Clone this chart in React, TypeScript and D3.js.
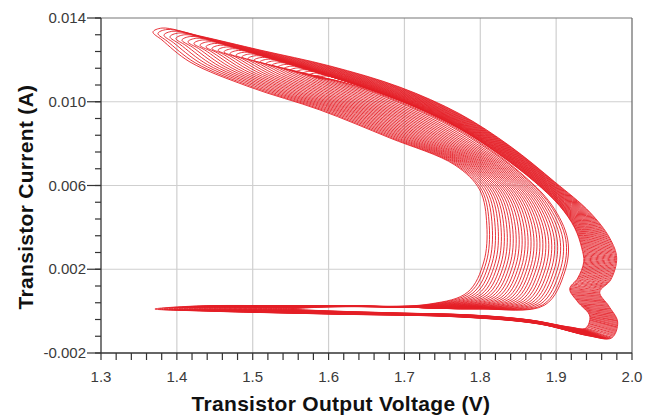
import React from "react";
import * as d3 from "d3";

// outermost and innermost orbit: [voltage V, current A]
const outerLoop: [number, number][] = [
  [1.3685, 0.01333], [1.3804, 0.01352], [1.4304, 0.01314], [1.5095, 0.01247],
  [1.6017, 0.01171], [1.6939, 0.0107], [1.773, 0.00942], [1.8389, 0.00789],
  [1.8982, 0.00617], [1.9443, 0.00473], [1.9706, 0.00349], [1.9798, 0.00254],
  [1.9719, 0.00149], [1.9574, 0.00091], [1.9693, 0.00025], [1.9811, -0.00052],
  [1.9732, -0.00128], [1.9443, -0.00119], [1.8784, -0.00062], [1.773, -0.00028],
  [1.6017, -0.00014], [1.4304, 0.00001], [1.3711, 0.0001], [1.4304, 0.00025],
  [1.6017, 0.00025], [1.7335, 0.00034], [1.7835, 0.00091], [1.8046, 0.00235],
  [1.8086, 0.00411], [1.7993, 0.00579], [1.7664, 0.00698], [1.6808, 0.00827],
  [1.5885, 0.00961], [1.4963, 0.0107], [1.4173, 0.0119], [1.3804, 0.01295],
];

const innerLoop: [number, number][] = [
  [1.5859, 0.01113], [1.5964, 0.01123], [1.6215, 0.01099], [1.6676, 0.01042],
  [1.7203, 0.00965], [1.773, 0.0087], [1.8257, 0.00746], [1.8718, 0.00617],
  [1.9047, 0.00502], [1.9245, 0.00397], [1.9337, 0.00302], [1.9364, 0.00235],
  [1.9285, 0.00158], [1.9179, 0.00106], [1.9285, 0.00044], [1.9443, -0.00023],
  [1.939, -0.00081], [1.9179, -0.00076], [1.8652, -0.00042], [1.7862, -0.00018],
  [1.6939, -0.00009], [1.6017, 0.00001], [1.5516, 0.0001], [1.6017, 0.0002],
  [1.6939, 0.0002], [1.7993, 0.0001], [1.885, 0.00029], [1.9113, 0.00187],
  [1.9153, 0.0034], [1.8942, 0.00507], [1.852, 0.00664], [1.802, 0.00798],
  [1.7532, 0.00903], [1.6939, 0.00999], [1.6412, 0.0107], [1.607, 0.01104],
];

// left tip voltage of each nested orbit (upper-left corner of the plot)
const tipVoltages = [
  1.3685, 1.3751, 1.383, 1.3909, 1.3988, 1.4067, 1.4146, 1.4225, 1.4304, 1.4383,
  1.4462, 1.4542, 1.4621, 1.47, 1.4779, 1.4858, 1.4937, 1.5016, 1.5095, 1.5174,
  1.5253, 1.5332, 1.5411, 1.549, 1.5569, 1.5648, 1.5727, 1.5806, 1.5859,
];

const xTicks = [1.3, 1.4, 1.5, 1.6, 1.7, 1.8, 1.9, 2.0];
const yTicks = [-0.002, 0.002, 0.006, 0.01, 0.014];

const W = 646;
const H = 418;
const left = 101, right = 632, top = 18, bottom = 353;
const font = "'Liberation Sans', Arial, sans-serif";

export default function App() {
  const x = d3.scaleLinear().domain([1.3, 2.0]).range([left, right]);
  const y = d3.scaleLinear().domain([-0.002, 0.014]).range([bottom, top]);

  const line = d3
    .line<[number, number]>()
    .x((d) => x(d[0]))
    .y((d) => y(d[1]))
    .curve(d3.curveCatmullRomClosed.alpha(0.5));

  // each orbit sits between the outer and inner one, placed by its tip
  const v0 = outerLoop[0][0];
  const v1 = innerLoop[0][0];
  const loops = tipVoltages.map((tv) => {
    const t = (tv - v0) / (v1 - v0);
    return outerLoop.map(
      (p, i) =>
        [p[0] + (innerLoop[i][0] - p[0]) * t, p[1] + (innerLoop[i][1] - p[1]) * t] as [number, number]
    );
  });

  const xMinor = d3.range(1.3, 2.0001, 0.02);
  const yMinor = d3.range(-0.002, 0.01401, 0.0008);

  return (
    <svg width={W} height={H} style={{ position: "absolute", left: 0, top: 0, background: "#fff" }}>
      {/* grid */}
      {xTicks.slice(1, -1).map((v) => (
        <line key={"gx" + v} x1={x(v)} x2={x(v)} y1={top} y2={bottom} stroke="#cfcfcf" strokeWidth={1.2} />
      ))}
      {yTicks.slice(1, -1).map((v) => (
        <line key={"gy" + v} x1={left} x2={right} y1={y(v)} y2={y(v)} stroke="#cfcfcf" strokeWidth={1.2} />
      ))}

      {/* orbits */}
      <g fill="none" stroke="#e41e26" strokeWidth={0.9}>
        {loops.map((pts, i) => (
          <path key={i} d={line(pts) || ""} />
        ))}
      </g>

      {/* frame */}
      <line x1={left} x2={right} y1={top} y2={top} stroke="#777" strokeWidth={1.2} />
      <line x1={right} x2={right} y1={top} y2={bottom} stroke="#666" strokeWidth={1.2} />
      <line x1={left} x2={left} y1={top} y2={bottom} stroke="#333" strokeWidth={1.3} />
      <line x1={left} x2={right} y1={bottom} y2={bottom} stroke="#333" strokeWidth={1.3} />

      {/* ticks */}
      {xMinor.map((v, i) => (
        <line key={"xt" + i} x1={x(v)} x2={x(v)} y1={bottom} y2={bottom + 7} stroke="#333" strokeWidth={1.2} />
      ))}
      {yMinor.map((v, i) => (
        <line key={"yt" + i} x1={left - 6} x2={left} y1={y(v)} y2={y(v)} stroke="#333" strokeWidth={1.2} />
      ))}
      {yTicks.map((v) => (
        <line key={"yM" + v} x1={left - 14} x2={left} y1={y(v)} y2={y(v)} stroke="#333" strokeWidth={1.2} />
      ))}

      {/* tick labels */}
      <g fontFamily={font} fontSize={15} fill="#3a3a3a">
        {xTicks.map((v) => (
          <text key={"xl" + v} x={x(v)} y={bottom + 29} textAnchor="middle">
            {d3.format(".1f")(v)}
          </text>
        ))}
        {yTicks.map((v) => (
          <text key={"yl" + v} x={left - 15} y={y(v) + 5} textAnchor="end">
            {d3.format(".3f")(v).replace("−", "-")}
          </text>
        ))}
      </g>

      {/* axis titles */}
      <text
        x={341}
        y={411}
        textAnchor="middle"
        fontFamily={font}
        fontSize={21}
        fontWeight="bold"
        letterSpacing={0.3}
        fill="#111"
      >
        Transistor Output Voltage (V)
      </text>
      <text
        transform="translate(33,197) rotate(-90)"
        textAnchor="middle"
        fontFamily={font}
        fontSize={21}
        fontWeight="bold"
        letterSpacing={0.3}
        fill="#111"
      >
        Transistor Current (A)
      </text>
    </svg>
  );
}
